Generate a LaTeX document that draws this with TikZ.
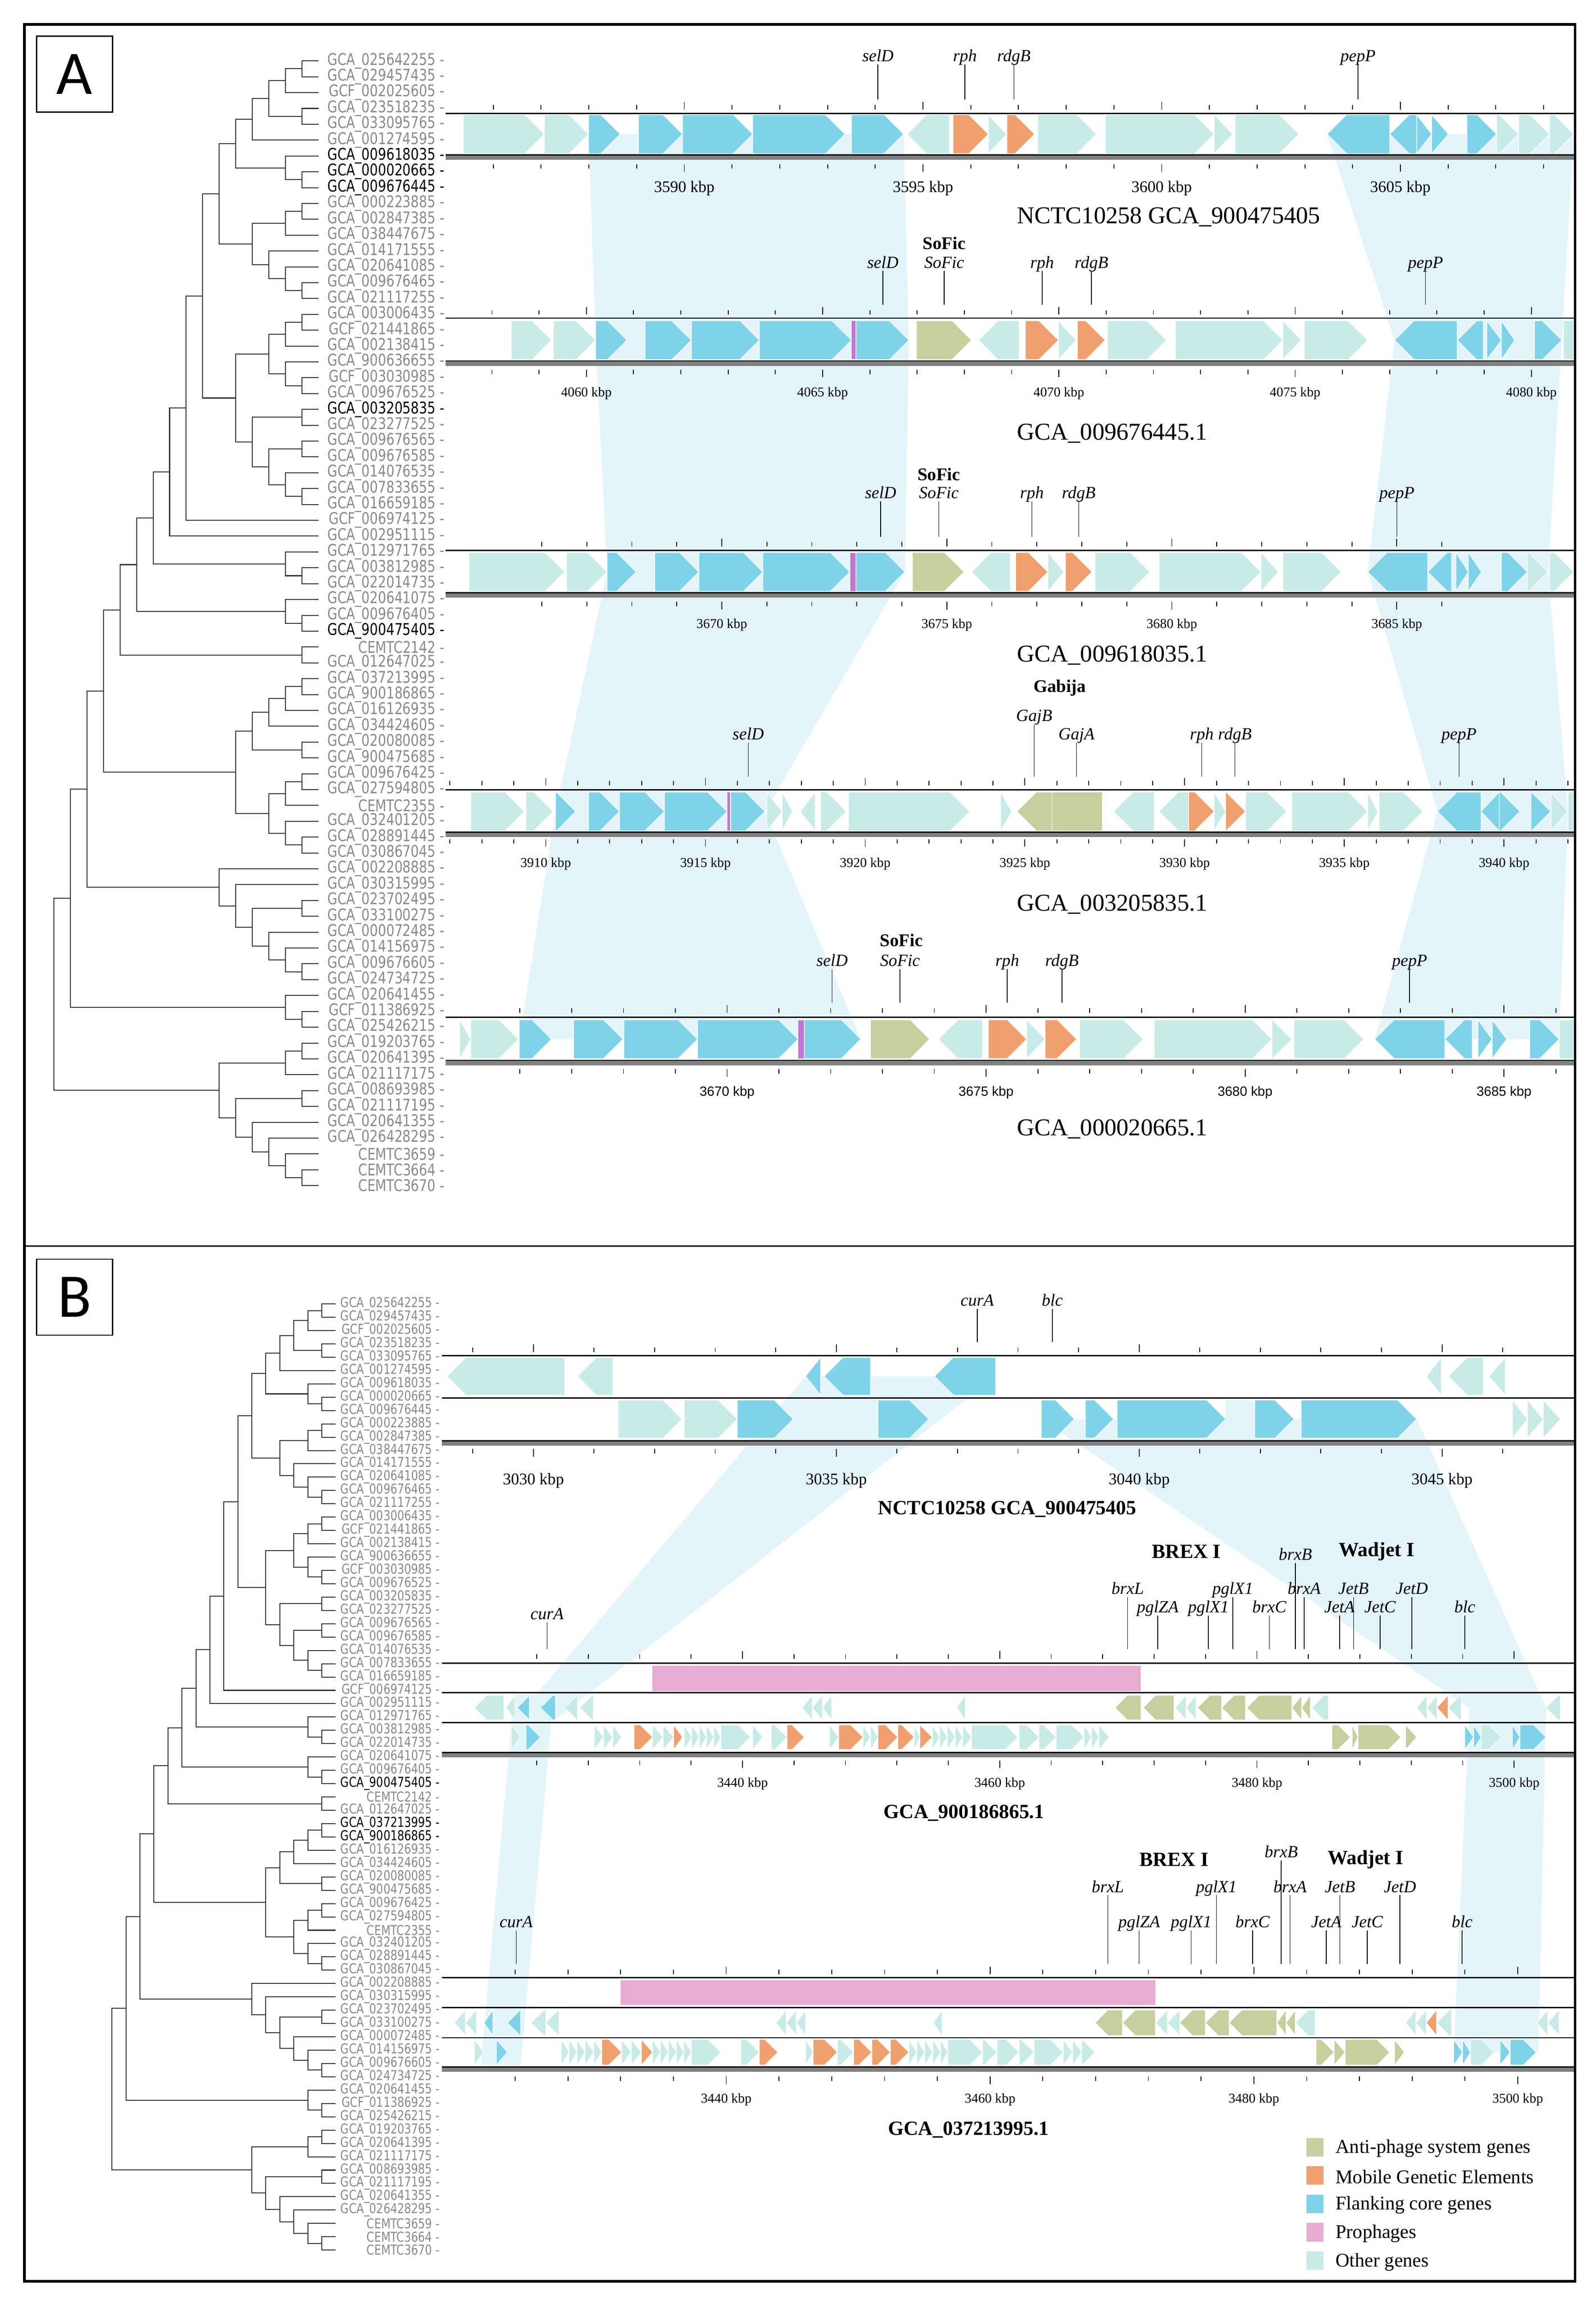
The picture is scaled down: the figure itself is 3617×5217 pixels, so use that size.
\documentclass[tikz,border=0pt]{standalone}
\usepackage{fontspec}
\setmainfont{Liberation Serif}
\setsansfont{Liberation Sans}
\newfontfamily\treefont[FakeStretch=0.8]{DejaVu Sans}
\newfontfamily\panelfont{Carlito}
\usetikzlibrary{calc}

\definecolor{oth}{RGB}{200,236,229}
\definecolor{core}{RGB}{127,211,232}
\definecolor{mge}{RGB}{240,160,108}
\definecolor{anti}{RGB}{199,207,159}
\definecolor{phage}{RGB}{232,172,210}
\definecolor{selbar}{RGB}{190,120,210}
\definecolor{synteny}{RGB}{227,244,250}
\definecolor{leafgray}{RGB}{138,138,138}

\tikzset{
branch/.style={draw=black!80, line width=0.6pt}, % tree edges
leaf/.style={font=\treefont\fontsize{10.4}{11}\selectfont, anchor=east, inner sep=0pt}, % tip labels
gene/.style={draw=white, line width=0.4pt}, % gene arrows
trackline/.style={draw=black, line width=0.8pt},
tick/.style={draw=black, line width=0.55pt},
gline/.style={draw=black, line width=0.45pt},
glab/.style={anchor=south, inner sep=0.5pt, text height=1.5ex, text depth=0.25ex, font=\itshape\fontsize{11}{12}\selectfont},
sysA/.style={font=\bfseries\fontsize{11.5}{12}\selectfont},
sysB/.style={font=\bfseries\fontsize{13}{14}\selectfont},
titleA/.style={anchor=west, font=\fontsize{15.6}{17}\selectfont},
titleB/.style={font=\bfseries\fontsize{13}{14}\selectfont},
kbp/.style={font=\fontsize{8.7}{9}\selectfont},
legtext/.style={anchor=west, font=\fontsize{12.5}{13}\selectfont},
panelbox/.style={draw, line width=0.7pt, minimum width=1.72cm, minimum height=1.72cm, inner sep=0pt, font=\panelfont\fontsize{40}{40}\selectfont},
}

\newcommand\leafnames{GCA\_025642255,GCA\_029457435,GCF\_002025605,GCA\_023518235,GCA\_033095765,GCA\_001274595,GCA\_009618035,GCA\_000020665,GCA\_009676445,GCA\_000223885,GCA\_002847385,GCA\_038447675,GCA\_014171555,GCA\_020641085,GCA\_009676465,GCA\_021117255,GCA\_003006435,GCF\_021441865,GCA\_002138415,GCA\_900636655,GCF\_003030985,GCA\_009676525,GCA\_003205835,GCA\_023277525,GCA\_009676565,GCA\_009676585,GCA\_014076535,GCA\_007833655,GCA\_016659185,GCF\_006974125,GCA\_002951115,GCA\_012971765,GCA\_003812985,GCA\_022014735,GCA\_020641075,GCA\_009676405,GCA\_900475405,CEMTC2142,GCA\_012647025,GCA\_037213995,GCA\_900186865,GCA\_016126935,GCA\_034424605,GCA\_020080085,GCA\_900475685,GCA\_009676425,GCA\_027594805,CEMTC2355,GCA\_032401205,GCA\_028891445,GCA\_030867045,GCA\_002208885,GCA\_030315995,GCA\_023702495,GCA\_033100275,GCA\_000072485,GCA\_014156975,GCA\_009676605,GCA\_024734725,GCA\_020641455,GCF\_011386925,GCA\_025426215,GCA\_019203765,GCA\_020641395,GCA\_021117175,GCA\_008693985,GCA\_021117195,GCA\_020641355,GCA\_026428295,CEMTC3659,CEMTC3664,CEMTC3670}

% tips: tip x, first y, row step, label x, rows printed in black
\newcommand\leaves[5]{%
  \foreach \n [count=\i] in \leafnames {
    \gdef\lc{leafgray}
    \foreach \r in {#5} {\ifnum\i=\r\relax\gdef\lc{black}\fi}
    \coordinate (l\i) at (#1,{#2+(\i-1)*#3});
    \node[leaf, text=\lc] (lab\i) at (#4,{#2+(\i-1)*#3}) {\n\ -};
  }%
}
% clade: name, level, upper child, lower child
\newcommand\clade[4]{%
  \path let \p1=(#3), \p2=(#4), \p3=({\tx-#2*\ts},0) in coordinate (#1) at (\x3,{0.5*(\y1+\y2)});
  \draw[branch] (#3) -| (#1) |- (#4);
}
\newcommand\cladetree{%
  \clade{c1}{1}{l1}{l2} \clade{c2}{2}{c1}{l3} \clade{c3}{1}{l4}{l5}
  \clade{c4}{3}{c2}{c3} \clade{c5}{4}{c4}{l6} \clade{c6}{1}{l8}{l9}
  \clade{c7}{2}{l7}{c6} \clade{c8}{5}{c5}{c7} \clade{c9}{1}{l10}{l11}
  \clade{c10}{2}{c9}{l12} \clade{c11}{1}{l15}{l16} \clade{c12}{2}{l14}{c11}
  \clade{c13}{3}{l13}{c12} \clade{c14}{4}{c10}{c13} \clade{c15}{6}{c8}{c14}
  \clade{c16}{1}{l17}{l18} \clade{c17}{2}{c16}{l19} \clade{c18}{1}{l21}{l22}
  \clade{c19}{2}{l20}{c18} \clade{c20}{3}{c17}{c19} \clade{c21}{1}{l23}{l24}
  \clade{c22}{1}{l25}{l26} \clade{c23}{1}{l28}{l29} \clade{c24}{2}{l27}{c23}
  \clade{c25}{3}{c22}{c24} \clade{c26}{4}{c21}{c25} \clade{c27}{5}{c20}{c26}
  \clade{c28}{7}{c15}{c27} \clade{c29}{8}{c28}{l30} \clade{c30}{9}{c29}{l31}
  \clade{c31}{1}{l33}{l34} \clade{c32}{2}{l32}{c31} \clade{c33}{10}{c30}{c32}
  \clade{c34}{1}{l36}{l37} \clade{c35}{2}{l35}{c34} \clade{c36}{11}{c33}{c35}
  \clade{c37}{1}{l38}{l39} \clade{c38}{12}{c36}{c37} \clade{c39}{1}{l40}{l41}
  \clade{c40}{2}{c39}{l42} \clade{c41}{3}{c40}{l43} \clade{c42}{1}{l44}{l45}
  \clade{c43}{4}{c41}{c42} \clade{c44}{1}{l46}{l47} \clade{c45}{2}{c44}{l48}
  \clade{c46}{1}{l50}{l51} \clade{c47}{2}{l49}{c46} \clade{c48}{3}{c45}{c47}
  \clade{c49}{5}{c43}{c48} \clade{c50}{13}{c38}{c49} \clade{c51}{1}{l58}{l59}
  \clade{c52}{2}{l57}{c51} \clade{c53}{3}{l56}{c52} \clade{c54}{1}{l54}{l55}
  \clade{c55}{4}{c54}{c53} \clade{c56}{5}{l53}{c55} \clade{c57}{6}{l52}{c56}
  \clade{c58}{14}{c50}{c57} \clade{c59}{1}{l61}{l62} \clade{c60}{2}{l60}{c59}
  \clade{c61}{15}{c58}{c60} \clade{c62}{1}{l63}{l64} \clade{c63}{2}{c62}{l65}
  \clade{c64}{1}{l66}{l67} \clade{c65}{1}{l71}{l72} \clade{c66}{2}{l70}{c65}
  \clade{c67}{3}{l69}{c66} \clade{c68}{4}{l68}{c67} \clade{c69}{5}{c64}{c68}
  \clade{c70}{6}{c63}{c69} \clade{c71}{16}{c61}{c70}
}

% genes: start x, end x, colour (row centre \gy, half height \gh)
\newcommand\gener[3]{\path[gene,fill=#3] (#1,\gy-\gh) -- ({max(#1,#2-\gh)},\gy-\gh) -- (#2,\gy) -- ({max(#1,#2-\gh)},\gy+\gh) -- (#1,\gy+\gh) -- cycle;}
\newcommand\genel[3]{\path[gene,fill=#3] (#2,\gy-\gh) -- ({min(#2,#1+\gh)},\gy-\gh) -- (#1,\gy) -- ({min(#2,#1+\gh)},\gy+\gh) -- (#2,\gy+\gh) -- cycle;}
\newcommand\geneb[3]{\path[gene,fill=#3] (#1,\gy-\gh) rectangle (#2,\gy+\gh);}
\newcommand\gene[4]{\csname gene#3\endcsname{#1}{#2}{#4}}
\newcommand\genes[3]{\def\gy{#1}\def\gh{#2}\foreach \xa/\xb/\dir/\col in {#3} {\gene{\xa}{\xb}{\dir}{\col}}}

\newcommand\trackframe[3]{% top y, bottom y, left x
  \draw[trackline] (#3,#1) -- (3567,#1);
  \fill[black!50] (#3,#2) rectangle (3567,#2+11);
  \draw[trackline] (#3,#2) -- (3567,#2);
}
% x of ref kbp, ref kbp, px per kbp, first tick(s), last tick, labelled ticks, top foot, bottom head, label y
\newcommand\kbpaxis[9]{%
  \foreach \k in {#4,...,#5} {
    \draw[tick] ({#1+(\k-#2)*#3},#7) -- ++(0,-10);
    \draw[tick] ({#1+(\k-#2)*#3},#8) -- ++(0,10);
  }
  \foreach \k in {#6} {
    \draw[tick] ({#1+(\k-#2)*#3},#7) -- ++(0,-17);
    \draw[tick] ({#1+(\k-#2)*#3},#8) -- ++(0,17);
    \node[kbp] (kbp\k) at ({#1+(\k-#2)*#3},#9) {\k~kbp};
  }%
}
% labels: line top, line foot, list of x/text
\newcommand\genelabels[3]{%
  \foreach \gx/\gt [count=\j] in {#3} {
    \node[glab] (gl\j) at (\gx,#1) {\gt};
    \draw[gline] (gl\j.south) -- (\gx,#2);
  }%
}
\newcommand\synlink[6]{\fill[synteny] (#1,#3) -- (#2,#3) -- (#5,#6) -- (#4,#6) -- cycle;}

\begin{document}
\begin{tikzpicture}[x=0.01cm, y=-0.01cm]
\useasboundingbox (0,0) rectangle (3617,5217);

% shared flanking regions
\synlink{1334}{2048}{304}{1350}{2060}{771}
\synlink{1350}{2060}{771}{1376}{2051}{1296}
\synlink{1376}{2051}{1296}{1259}{1734}{1839}
\synlink{1259}{1734}{1839}{1177}{1951}{2355}
\synlink{3008}{3567}{304}{3161}{3540}{771}
\synlink{3161}{3540}{771}{3100}{3509}{1296}
\synlink{3100}{3509}{1296}{3258}{3554}{1839}
\synlink{3258}{3554}{1839}{3116}{3534}{2355}
\synlink{1826}{2257}{3119}{1165}{1255}{3900}
\synlink{1165}{1255}{3840}{1090}{1180}{4680}
\synlink{2360}{3211}{3216}{3330}{3504}{3870}
\synlink{3330}{3504}{3870}{3295}{3487}{4651}
\fill[synteny] (2778,3173) rectangle (2844,3216);

\draw[line width=1.7pt] (55,55) rectangle (3570,5170);
\draw[line width=0.8pt] (55,2824) -- (3570,2824);
\node[panelbox] (pA) at (169,168) {A};
\node[panelbox] (pB) at (169,2940) {B};

% trees
\def\tx{722}\def\ts{37.5}
\leaves{722}{138}{35.9}{1008}{7,8,9,23,37}
\cladetree
\begin{scope}[leaf/.append style={font=\treefont\fontsize{8.8}{9}\selectfont}]
\def\tx{761}\def\ts{31.7}
\leaves{761}{2955}{30.2}{997}{37,40,41}
\cladetree
\end{scope}

% A1
\trackframe{257}{351}{1010}
\begin{scope}[kbp/.style={font=\fontsize{10.4}{11}\selectfont}]
\kbpaxis{1551}{3590}{108.2}{3586}{3608}{3590,3595,3600,3605}{248}{372}{427}
\end{scope}
\genes{304}{44}{1050/1234/r/oth, 1234/1334/r/oth, 1334/1406/r/core, 1447/1547/r/core, 1547/1706/r/core, 1706/1915/r/core, 1930/2048/r/core, 2056/2152/l/oth, 2160/2240/r/mge, 2240/2282/r/oth, 2282/2345/r/mge, 2352/2485/r/oth, 2505/2752/r/oth, 2752/2794/r/oth, 2799/2944/r/oth, 3008/3150/l/core, 3150/3211/l/core, 3211/3245/r/core, 3245/3283/r/core, 3325/3392/r/core, 3392/3442/r/oth, 3442/3512/r/oth, 3512/3567/r/oth}
\genelabels{146}{225}{1990/selD, 2187/rph, 2298/rdgB, 3078/pepP}
\node[titleA] (tA1) at (2293,492) {NCTC10258 GCA\_900475405};

% A2
\trackframe{721}{818}{1010}
\kbpaxis{1329}{4060}{107.1}{4058}{4080}{4060,4065,4070,4075,4080}{713}{838}{891}
\genes{771}{44}{1159/1250/r/oth, 1254/1350/r/oth, 1350/1421/r/core, 1462/1567/r/core, 1567/1721/r/core, 1721/1930/r/core, 1930/1940/b/selbar, 1940/2060/r/core, 2077/2202/r/anti, 2218/2310/l/oth, 2324/2399/r/mge, 2399/2439/r/oth, 2442/2505/r/mge, 2510/2644/r/oth, 2664/2908/r/oth, 2908/2949/r/oth, 2956/3100/r/oth, 3161/3303/l/core, 3303/3362/l/core, 3370/3403/r/core, 3403/3433/r/core, 3478/3540/r/core, 3544/3567/b/oth}
\node[sysA] (sA2) at (2140,551) {SoFic};
\genelabels{614}{691}{2001/selD, 2140/SoFic, 2362/rph, 2474/rdgB, 3231/pepP}
\node[titleA] (tA2) at (2293,982) {GCA\_009676445.1};

% A3
\trackframe{1247}{1343}{1010}
\kbpaxis{1636}{3670}{102}{3666}{3686}{3670,3675,3680,3685}{1238}{1364}{1416}
\genes{1296}{44}{1063/1280/r/oth, 1284/1376/r/oth, 1376/1442/r/core, 1484/1584/r/core, 1584/1729/r/core, 1729/1926/r/core, 1926/1940/b/selbar, 1940/2051/r/core, 2068/2185/r/anti, 2202/2290/l/oth, 2302/2375/r/mge, 2375/2412/r/oth, 2415/2475/r/mge, 2482/2606/r/oth, 2627/2858/r/oth, 2858/2898/r/oth, 2908/3040/r/oth, 3100/3236/l/core, 3236/3290/l/core, 3300/3328/r/core, 3328/3358/r/core, 3403/3462/r/core, 3462/3509/r/oth, 3512/3567/r/oth}
\node[sysA] (sA3) at (2128,1075) {SoFic};
\genelabels{1136}{1217}{1996/selD, 2128/SoFic, 2339/rph, 2445/rdgB, 3166/pepP}
\node[titleA] (tA3) at (2293,1485) {GCA\_009618035.1};

% A4
\trackframe{1790}{1886}{1010}
\kbpaxis{1237}{3910}{72.4}{3907}{3942}{3910,3915,3920,3925,3930,3935,3940}{1780}{1902}{1958}
\genes{1839}{44}{1067/1189/r/oth, 1192/1254/r/oth, 1259/1305/r/core, 1334/1404/r/core, 1404/1506/r/core, 1506/1648/r/core, 1648/1656/b/selbar, 1656/1734/r/core, 1738/1773/r/oth, 1773/1796/r/oth, 1814/1848/l/oth, 1860/1918/r/oth, 1923/2198/r/oth, 2268/2293/r/oth, 2305/2385/l/anti, 2385/2499/b/anti, 2524/2616/l/oth, 2627/2694/l/oth, 2694/2752/r/mge, 2752/2778/r/oth, 2778/2823/r/mge, 2823/2916/r/oth, 2928/3100/r/oth, 3100/3123/r/oth, 3126/3225/r/oth, 3258/3357/l/core, 3357/3398/l/core, 3398/3445/r/core, 3470/3515/r/core, 3515/3554/r/oth, 3554/3567/b/oth}
\node[sysA] (sA4) at (2402,1559) {Gabija};
\genelabels{1641}{1760}{2344/GajB}
\genelabels{1683}{1760}{1696/selD, 2440/GajA, 2724/rph, 2799/rdgB, 3307/pepP}
\node[titleA] (tA4) at (2293,2050) {GCA\_003205835.1};

% A5
\trackframe{2305}{2403}{1010}
\begin{scope}[kbp/.style={font=\sffamily\fontsize{8.6}{9}\selectfont}]
\kbpaxis{1648}{3670}{117.4}{3666}{3686}{3670,3675,3680,3685}{2295}{2423}{2476}
\end{scope}
\genes{2355}{44}{1042/1067/r/oth, 1067/1175/r/oth, 1177/1250/r/core, 1300/1412/r/core, 1414/1581/r/core, 1581/1809/r/core, 1809/1823/b/selbar, 1823/1951/r/core, 1973/2107/r/anti, 2127/2227/l/oth, 2240/2327/r/mge, 2327/2369/r/oth, 2369/2440/r/mge, 2447/2591/r/oth, 2616/2883/r/oth, 2883/2928/r/oth, 2933/3091/r/oth, 3116/3275/l/core, 3275/3337/l/core, 3350/3382/r/core, 3382/3415/r/core, 3467/3534/r/core, 3534/3567/b/oth}
\node[sysA] (sA5) at (2043,2131) {SoFic};
\genelabels{2196}{2273}{1886/selD, 2040/SoFic, 2283/rph, 2407/rdgB, 3195/pepP}
\node[titleA] (tA5) at (2293,2559) {GCA\_000020665.1};

% B1
\trackframe{3072}{3265}{1002}
\draw[trackline] (1002,3168) -- (3567,3168);
\begin{scope}[kbp/.style={font=\fontsize{10.5}{11}\selectfont}]
\kbpaxis{1209}{3030}{137.3}{3029}{3046}{3030,3035,3040,3045}{3064}{3284}{3356}
\end{scope}
\genes{3119}{43}{1013/1280/l/oth, 1309/1389/l/oth, 1826/1860/l/core, 1868/1973/l/core, 2118/2257/l/core, 3233/3267/l/oth, 3283/3362/l/oth, 3375/3412/l/oth}
\genes{3216}{43}{1401/1546/r/oth, 1551/1671/r/oth, 1671/1798/r/core, 1990/2105/r/core, 2360/2435/r/core, 2460/2524/r/core, 2532/2778/r/core, 2844/2933/r/core, 2949/3211/r/core, 3428/3462/r/oth, 3462/3498/r/oth, 3498/3537/r/oth}
\genelabels{2966}{3041}{2215/curA, 2385/blc}
\node[titleB] (tB1) at (2283,3420) {NCTC10258 GCA\_900475405};

% B2
\trackframe{3769}{3972}{1002}
\draw[trackline] (1002,3836) -- (3567,3836);
\draw[trackline] (1002,3904) -- (3567,3904);
\kbpaxis{1683}{3440}{29.15}{3424,3428}{3500}{3440,3460,3480,3500}{3759}{3990}{4043}
\fill[phage] (1479,3775) rectangle (2586,3832);
\genes{3870}{28}{1075/1142/l/oth, 1147/1167/l/oth, 1172/1200/l/core, 1225/1259/l/core, 1280/1309/l/oth, 1314/1345/l/oth, 1818/1841/l/oth, 1841/1864/l/oth, 1864/1885/l/oth, 2168/2188/l/oth, 2527/2586/l/anti, 2591/2661/l/anti, 2664/2688/l/oth, 2688/2711/l/oth, 2714/2769/l/anti, 2769/2823/l/anti, 2826/2928/l/anti, 2928/2950/l/anti, 2950/2970/l/anti, 2973/3011/l/oth, 3211/3234/l/oth, 3234/3257/l/oth, 3257/3282/l/mge, 3282/3312/l/oth, 3504/3537/l/oth}
\genes{3937}{28}{1159/1180/r/oth, 1192/1225/r/core, 1347/1368/r/oth, 1368/1389/r/oth, 1389/1409/r/oth, 1437/1479/r/mge, 1479/1503/r/oth, 1503/1527/r/oth, 1527/1547/r/mge, 1551/1568/r/oth, 1568/1585/r/oth, 1585/1601/r/oth, 1601/1618/r/oth, 1618/1634/r/oth, 1634/1701/r/oth, 1706/1729/r/oth, 1748/1784/r/oth, 1784/1823/r/mge, 1880/1901/r/oth, 1901/1956/r/mge, 1956/1973/r/oth, 1973/1990/r/oth, 1990/2035/r/mge, 2035/2072/r/mge, 2072/2085/r/oth, 2085/2113/r/mge, 2113/2130/r/oth, 2130/2147/r/oth, 2147/2165/r/oth, 2165/2182/r/oth, 2182/2202/r/oth, 2202/2307/r/oth, 2310/2355/r/oth, 2355/2394/r/oth, 2394/2457/r/oth, 2457/2474/r/oth, 2474/2491/r/oth, 2491/2514/r/oth, 3019/3061/r/anti, 3065/3078/r/anti, 3078/3175/r/anti, 3186/3211/r/anti, 3320/3340/r/core, 3340/3357/r/core, 3357/3403/r/oth, 3428/3445/r/core, 3445/3504/r/core}
\node[sysB] (sB2a) at (2689,3516) {BREX I};
\node[sysB] (sB2b) at (3120,3516) {Wadjet I};
\genelabels{3542}{3737}{2936/brxB}
\genelabels{3619}{3737}{2556/brxL, 2794/pglX1, 2956/brxA, 3068/JetB, 3200/JetD}
\genelabels{3661}{3737}{2624/pglZA, 2739/pglX1, 2877/brxC, 3036/JetA, 3128/JetC, 3320/blc}
\genelabels{3677}{3737}{1240/curA}
\node[titleB] (tB2) at (2185,4109) {GCA\_900186865.1};

% B3
\trackframe{4482}{4684}{1002}
\draw[trackline] (1002,4550) -- (3567,4550);
\draw[trackline] (1002,4618) -- (3567,4618);
\kbpaxis{1646}{3440}{29.9}{3424,3428}{3500}{3440,3460,3480,3500}{4474}{4706}{4758}
\fill[phage] (1406,4488) rectangle (2619,4544);
\genes{4584}{29}{1030/1055/l/oth, 1055/1080/l/oth, 1097/1117/l/core, 1150/1180/l/core, 1204/1237/l/oth, 1237/1267/l/oth, 1759/1782/l/oth, 1782/1805/l/oth, 1805/1826/l/oth, 2115/2135/l/oth, 2482/2544/l/anti, 2544/2619/l/anti, 2619/2646/l/oth, 2646/2674/l/oth, 2674/2732/l/anti, 2732/2786/l/anti, 2786/2894/l/anti, 2894/2915/l/anti, 2915/2936/l/anti, 2936/2981/l/oth, 3186/3209/l/oth, 3209/3233/l/oth, 3233/3256/l/mge, 3256/3290/l/oth, 3483/3508/l/oth, 3508/3534/l/oth}
\genes{4651}{29}{1075/1097/r/oth, 1125/1150/r/core, 1272/1290/r/oth, 1290/1308/r/oth, 1308/1326/r/oth, 1326/1346/r/oth, 1346/1364/r/oth, 1364/1409/r/mge, 1409/1431/r/oth, 1431/1454/r/oth, 1454/1479/r/mge, 1479/1497/r/oth, 1497/1515/r/oth, 1515/1533/r/oth, 1533/1550/r/oth, 1550/1567/r/oth, 1567/1634/r/oth, 1679/1721/r/oth, 1721/1763/r/mge, 1826/1843/r/oth, 1843/1898/r/mge, 1898/1935/r/oth, 1935/1976/r/mge, 1976/2018/r/mge, 2018/2060/r/mge, 2060/2078/r/oth, 2078/2096/r/oth, 2096/2114/r/oth, 2114/2132/r/oth, 2132/2148/r/oth, 2148/2227/r/oth, 2227/2260/r/oth, 2260/2310/r/oth, 2310/2344/r/oth, 2344/2410/r/oth, 2410/2431/r/oth, 2431/2452/r/oth, 2452/2482/r/oth, 2983/3024/r/anti, 3024/3049/r/anti, 3049/3150/r/anti, 3161/3183/r/anti, 3295/3315/r/core, 3315/3333/r/core, 3333/3387/r/oth, 3400/3423/r/core, 3423/3482/r/core}
\node[sysB] (sB3a) at (2661,4214) {BREX I};
\node[sysB] (sB3b) at (3095,4214) {Wadjet I};
\genelabels{4216}{4451}{2904/brxB}
\genelabels{4295}{4451}{2511/brxL, 2757/pglX1, 2924/brxA, 3037/JetB, 3173/JetD}
\genelabels{4375}{4451}{1170/curA, 2582/pglZA, 2700/pglX1, 2839/brxC, 3006/JetA, 3099/JetC, 3314/blc}
\node[titleB] (tB3) at (2195,4827) {GCA\_037213995.1};

% legend
\foreach \c/\t [count=\i] in {anti/Anti-phage system genes, mge/Mobile Genetic Elements, core/Flanking core genes, phage/Prophages, oth/Other genes} {
  \fill[\c] (2961,{4845+(\i-1)*64.3}) rectangle (3000,{4887+(\i-1)*64.3});
  \node[legtext] (leg\i) at (3015,{4869+(\i-1)*64.3}) {\t};
}
\end{tikzpicture}
\end{document}
